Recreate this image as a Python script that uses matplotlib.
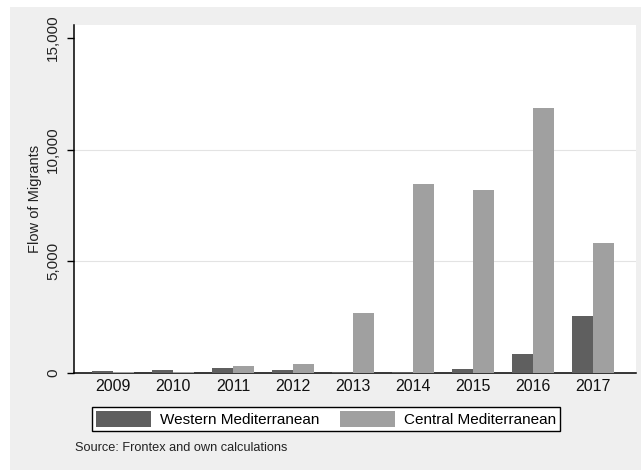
import matplotlib
matplotlib.use("Agg")
import matplotlib.pyplot as plt
from matplotlib.patches import Rectangle, Patch
import numpy as np

years = ["2009", "2010", "2011", "2012", "2013", "2014", "2015", "2016", "2017"]
western = [80, 120, 240, 120, 60, 60, 190, 860, 2560]
central = [60, 60, 320, 400, 2700, 8480, 8200, 11850, 5800]
yticks = [0, 5000, 10000, 15000]
ytick_labels = ["0", "5,000", "10,000", "15,000"]

plt.rcParams['font.family'] = ['Liberation Sans', 'DejaVu Sans']

W, H = 641, 470
fig = plt.figure(figsize=(W / 100, H / 100), dpi=100, facecolor="white")
fig.patches.append(Rectangle((10 / W, 0), (W - 10) / W, (H - 7) / H,
                             transform=fig.transFigure, facecolor="#efefef",
                             edgecolor="none", zorder=-10))

ax = fig.add_axes([74 / W, 1 - 373 / H, (636 - 74) / W, (373 - 25) / H])
ax.set_facecolor("white")

x = np.arange(len(years))
bw = 0.35
ax.bar(x - bw / 2, western, bw, color="#5f5f5f", label="Western Mediterranean", zorder=3)
ax.bar(x + bw / 2, central, bw, color="#a0a0a0", label="Central Mediterranean", zorder=3)

ax.set_xlim(-0.655, 8.72)
ax.set_ylim(0, 15580)
ax.set_yticks(yticks)
ax.set_yticklabels(ytick_labels, rotation=90, va="center", fontsize=11, color="#222222")
ax.set_xticks(x)
ax.set_xticklabels(years, fontsize=11.5, color="#111111")
ax.tick_params(axis="x", length=0, pad=4)
ax.tick_params(axis="y", length=5, width=1, pad=5)

for v in [5000, 10000]:
    ax.axhline(v, color="#e3e3e3", linewidth=0.8, zorder=1)

for s in ["top", "right"]:
    ax.spines[s].set_visible(False)
ax.spines["left"].set_linewidth(1.1)
ax.spines["bottom"].set_linewidth(1.1)

ax.set_ylabel("Flow of Migrants", fontsize=10.5, color="#222222", labelpad=3)

handles = [Patch(facecolor="#5f5f5f", label="Western Mediterranean"),
           Patch(facecolor="#a0a0a0", label="Central Mediterranean")]
leg = fig.legend(handles=handles, loc="center", ncol=2,
                 bbox_to_anchor=(((91 + 561) / 2) / W, 1 - 419 / H),
                 fontsize=11, frameon=True, fancybox=False,
                 edgecolor="black", facecolor="white", framealpha=1,
                 handlelength=3.6, handleheight=1.25, columnspacing=1.3,
                 handletextpad=0.6, borderpad=0.28, borderaxespad=0)
leg.get_frame().set_linewidth(1.0)

fig.text(75 / W, 1 - 448 / H, "Source: Frontex and own calculations",
         fontsize=9.2, color="#222222", va="center", ha="left")

fig.savefig("out.png", dpi=100, facecolor=fig.get_facecolor())
